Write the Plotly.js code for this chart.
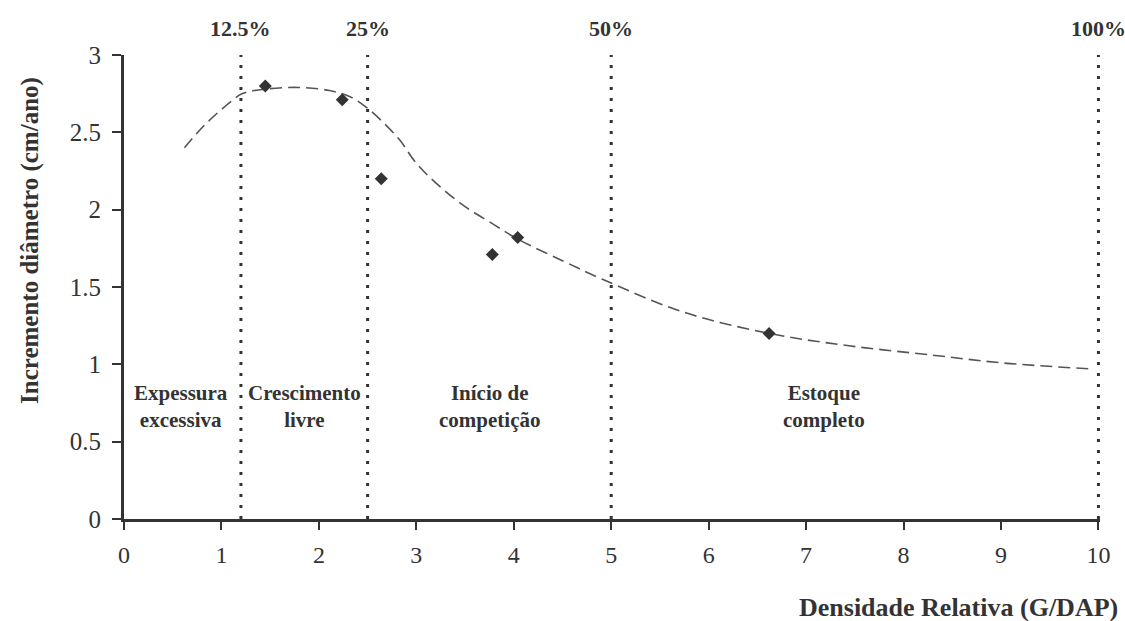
<!DOCTYPE html>
<html>
<head>
<meta charset="utf-8">
<script src="https://cdn.plot.ly/plotly-3.0.1.min.js"></script>
<style>html,body{margin:0;padding:0;background:#fff;}#chart{width:1125px;height:621px;}</style>
</head>
<body>
<div id="chart"></div>
<script>
// Observed data points
const pointX = [1.45, 2.24, 2.64, 3.78, 4.04, 6.62];
const pointY = [2.80, 2.71, 2.20, 1.71, 1.82, 1.20];

// Fitted (dashed) curve
const curveX = [0.62, 0.8, 0.95, 1.1, 1.21, 1.46, 1.8, 2.11, 2.32, 2.49, 2.65, 2.83, 3.0, 3.24, 3.5, 3.78, 4.04, 4.5, 4.91, 5.73, 6.62, 7.44, 8.29, 9.0, 9.93];
const curveY = [2.40, 2.53, 2.62, 2.70, 2.75, 2.78, 2.79, 2.77, 2.73, 2.66, 2.57, 2.45, 2.30, 2.15, 2.02, 1.91, 1.81, 1.67, 1.55, 1.34, 1.20, 1.12, 1.06, 1.01, 0.97];

// Stocking boundaries
const boundaryX = [1.2, 2.5, 5.0, 10.0];
const boundaryLabels = ['12.5%', '25%', '50%', '100%'];

// Zone labels
const zoneX = [0.59, 1.85, 3.75, 7.18];
const zoneLabels = ['Expessura<br>excessiva', 'Crescimento<br>livre', 'Início de<br>competição', 'Estoque<br>completo'];

const serif = '"Liberation Serif", "Times New Roman", serif';
const ink = '#333333';

const traces = [
  {
    x: curveX, y: curveY, mode: 'lines', type: 'scatter',
    line: {color: '#555555', width: 1.6, dash: '12px,6px', shape: 'spline', smoothing: 1},
    hoverinfo: 'skip', showlegend: false
  },
  {
    x: pointX, y: pointY, mode: 'markers', type: 'scatter',
    marker: {symbol: 'diamond', size: 10, color: ink},
    showlegend: false
  }
];

const shapes = boundaryX.map(b => ({
  type: 'line', xref: 'x', yref: 'y', x0: b, x1: b, y0: 0, y1: 3,
  line: {color: ink, width: 3, dash: '3px,8px'}
}));

const annotations = [];
boundaryX.forEach((b, i) => annotations.push({
  x: b, xref: 'x', y: 1.058, yref: 'paper', text: '<b>' + boundaryLabels[i] + '</b>',
  showarrow: false, xanchor: 'center', yanchor: 'middle',
  font: {family: serif, size: 22, color: ink}
}));
zoneX.forEach((zx, i) => annotations.push({
  x: zx, xref: 'x', y: 0.73, yref: 'y', text: '<b>' + zoneLabels[i] + '</b>',
  showarrow: false, xanchor: 'center', yanchor: 'middle', align: 'center',
  font: {family: serif, size: 21, color: ink}
}));
annotations.push({
  x: 1.021, xref: 'paper', y: -0.19, yref: 'paper', text: '<b>Densidade Relativa (G/DAP)</b>',
  showarrow: false, xanchor: 'right', yanchor: 'middle',
  font: {family: serif, size: 26, color: ink}
});
annotations.push({
  x: -0.097, xref: 'paper', y: 0.60, yref: 'paper', text: '<b>Incremento diâmetro (cm/ano)</b>',
  showarrow: false, xanchor: 'center', yanchor: 'middle', textangle: -90,
  font: {family: serif, size: 25, color: ink}
});

const layout = {
  width: 1125, height: 621,
  margin: {l: 124, r: 25, t: 55, b: 102},
  paper_bgcolor: '#ffffff', plot_bgcolor: '#ffffff',
  font: {family: serif, color: ink},
  xaxis: {
    range: [0, 10.016], tickmode: 'linear', tick0: 0, dtick: 1,
    showgrid: false, zeroline: false,
    showline: true, linecolor: ink, linewidth: 3,
    ticks: 'outside', ticklen: 8, tickwidth: 2, tickcolor: ink,
    ticklabelstandoff: 4,
    tickfont: {family: serif, size: 24, color: ink}
  },
  yaxis: {
    range: [0, 3], tickmode: 'linear', tick0: 0, dtick: 0.5,
    showgrid: false, zeroline: false,
    showline: true, linecolor: ink, linewidth: 3,
    ticks: 'outside', ticklen: 9, tickwidth: 2, tickcolor: ink,
    ticklabelstandoff: 6,
    tickfont: {family: serif, size: 25, color: ink}
  },
  shapes: shapes,
  annotations: annotations,
  showlegend: false
};

Plotly.newPlot('chart', traces, layout, {displayModeBar: false, staticPlot: true});
</script>
</body>
</html>
